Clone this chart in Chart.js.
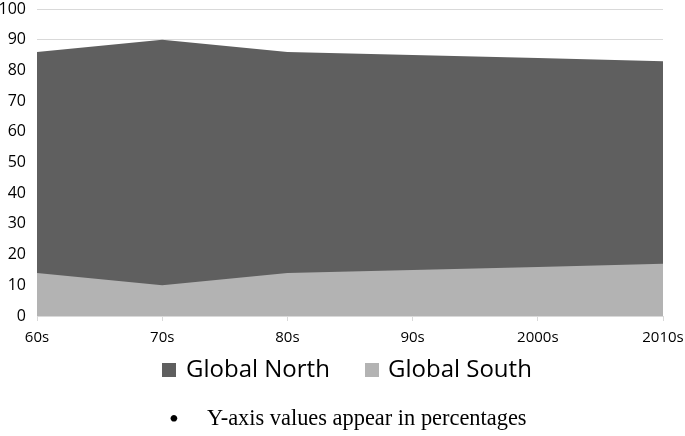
<!DOCTYPE html>
<html>
<head>
<meta charset="utf-8">
<script src="https://cdn.jsdelivr.net/npm/chart.js@4"></script>
<style>
html,body{margin:0;padding:0;background:#fff;}
#wrap{position:relative;width:685px;height:436px;overflow:hidden;}
#c{position:absolute;left:0;top:0;}
.lg-box{position:absolute;width:14px;height:14px;top:363px;}
.lg-txt{position:absolute;top:356px;font-family:'Open Sans',sans-serif;font-size:24px;line-height:24px;color:#000;white-space:nowrap;}
.fn{position:absolute;top:407px;font-family:'Liberation Serif',serif;font-size:22.4px;line-height:22.4px;color:#000;white-space:nowrap;}
.bullet{position:absolute;top:405px;left:169px;font-family:'Liberation Serif',serif;font-size:28px;line-height:28px;color:#000;}
</style>
</head>
<body>
<div id="wrap">
  <canvas id="c" width="685" height="436"></canvas>
  <div id="legend"></div>
  <span class="bullet">•</span>
  <span class="fn" id="note" style="left:207px"></span>
</div>
<script>
const categories = ["60s","70s","80s","90s","2000s","2010s"];
const globalNorth = [86, 90, 86, 85, 84, 83];
const globalSouth = [14, 10, 14, 15, 16, 17];
const yTicksMax = 100;
const seriesNames = ["Global North", "Global South"];
const seriesColors = ["#5f5f5f", "#b3b3b3"];
const footnote = "Y-axis values appear in percentages";

document.getElementById('note').textContent = footnote;

const chart = new Chart(document.getElementById('c'), {
  type: 'line',
  data: {
    labels: categories,
    datasets: [
      {label: seriesNames[0], data: globalNorth, backgroundColor: seriesColors[0], borderColor: seriesColors[0], borderWidth: 0, fill: 'origin', pointRadius: 0, tension: 0, order: 2},
      {label: seriesNames[1], data: globalSouth, backgroundColor: seriesColors[1], borderColor: seriesColors[1], borderWidth: 0, fill: 'origin', pointRadius: 0, tension: 0, order: 1}
    ]
  },
  options: {
    responsive: false,
    animation: false,
    layout: {padding: {top: 0, left: 0, right: 0, bottom: 90}},
    plugins: {
      tooltip: {enabled: false},
      legend: {display: false},
      title: {display: false}
    },
    scales: {
      x: {
        offset: false,
        grid: {display: true, drawOnChartArea: false, drawTicks: true, tickLength: 5, color: '#d9d9d9'},
        border: {display: true, color: '#d9d9d9'},
        ticks: {color: '#000', font: {family: 'Open Sans', size: 15}, padding: 8, maxRotation: 0},
        afterFit: (s) => { s.height = 30; s.paddingRight = 22; }
      },
      y: {
        min: 0, max: yTicksMax,
        ticks: {stepSize: 10, color: '#000', font: {family: 'Open Sans', size: 16}, padding: 11},
        grid: {color: '#d9d9d9', drawTicks: false},
        border: {display: false},
        afterFit: (s) => { s.width = 37; s.paddingTop = 9; s.paddingBottom = 0; }
      }
    }
  }
});

// HTML legend built from the dataset names/colours
const legendPos = [{box: 162, txt: 186}, {box: 365, txt: 388}];
const lg = document.getElementById('legend');
chart.data.datasets.forEach((ds, i) => {
  const b = document.createElement('div');
  b.className = 'lg-box';
  b.style.left = legendPos[i].box + 'px';
  b.style.background = ds.backgroundColor;
  lg.appendChild(b);
  const t = document.createElement('span');
  t.className = 'lg-txt';
  t.style.left = legendPos[i].txt + 'px';
  t.textContent = ds.label;
  lg.appendChild(t);
});
</script>
</body>
</html>
